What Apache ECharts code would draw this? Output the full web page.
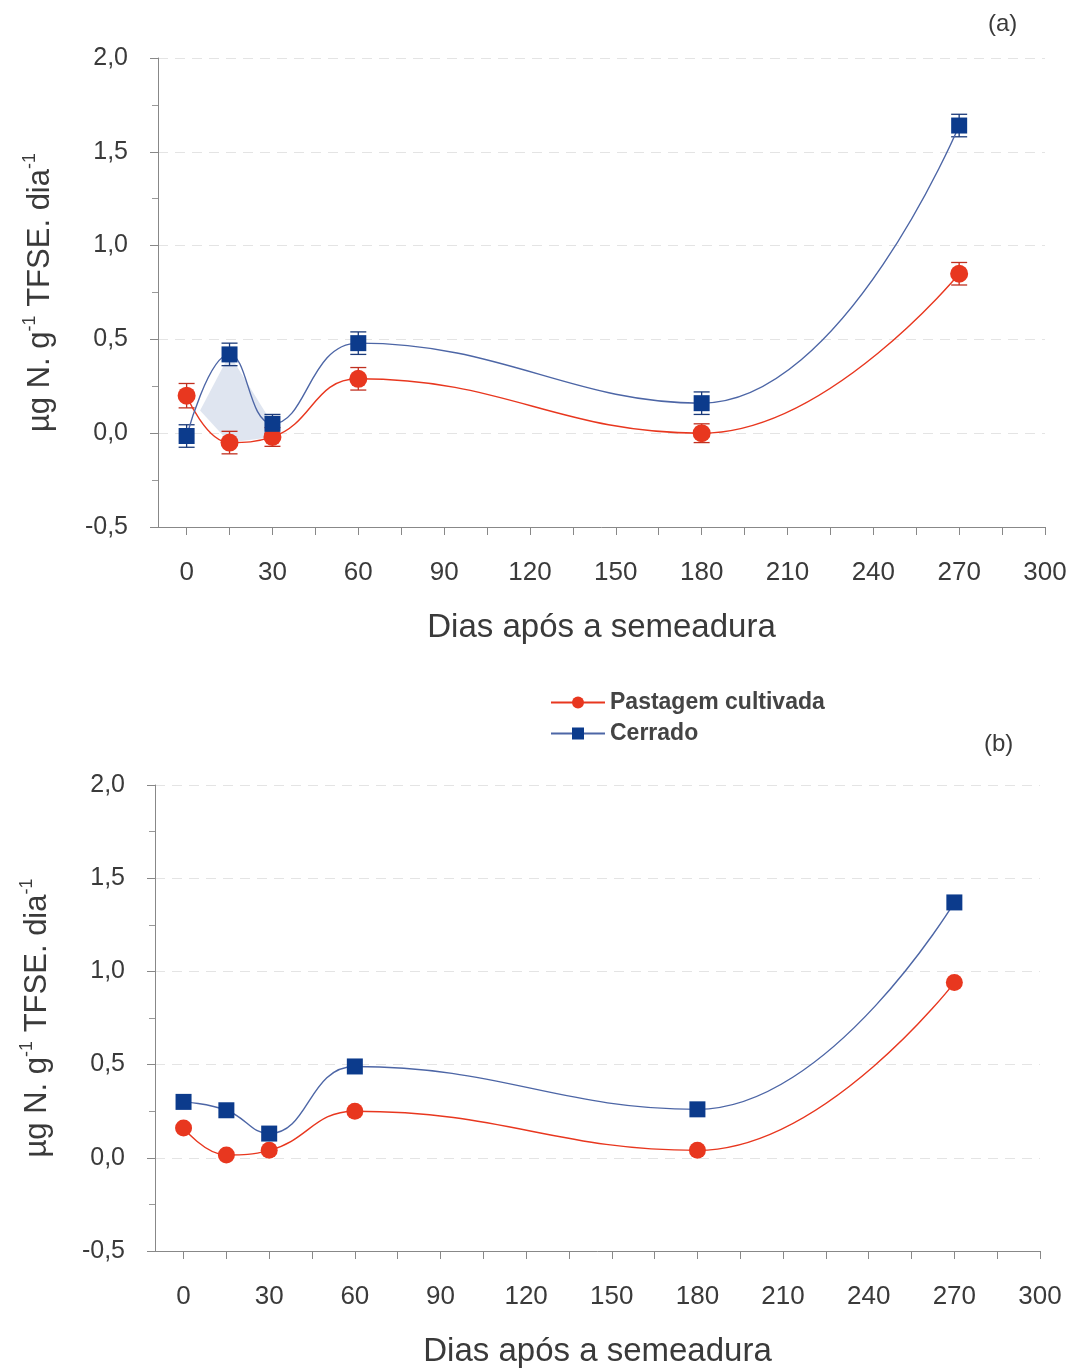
<!DOCTYPE html>
<html>
<head>
<meta charset="utf-8">
<script src="https://cdn.jsdelivr.net/npm/echarts@6/dist/echarts.min.js"></script>
<style>
  html, body { margin: 0; padding: 0; background: #fff; }
  #chart { width: 1073px; height: 1369px; }
</style>
</head>
<body>
<div id="chart"></div>
<script>
// dias apos a semeadura
var days = [0, 15, 30, 60, 180, 270];
var xLabels = [0, 30, 60, 90, 120, 150, 180, 210, 240, 270, 300];
var xTicks = [0, 15, 30, 45, 60, 75, 90, 105, 120, 135, 150, 165, 180, 195, 210, 225, 240, 255, 270, 285, 300];

// painel (a)
var pastagemA = [0.20, -0.05, -0.02, 0.29, 0.00, 0.85];
var cerradoA = [-0.015, 0.42, 0.05, 0.48, 0.16, 1.64];
var errPastagemA = [0.065, 0.06, 0.05, 0.06, 0.05, 0.06];
var errCerradoA = [0.06, 0.06, 0.05, 0.06, 0.06, 0.06];

// painel (b)
var pastagemB = [0.16, 0.015, 0.04, 0.25, 0.04, 0.94];
var cerradoB = [0.30, 0.255, 0.13, 0.49, 0.26, 1.37];

var RED = '#e8371f';
var BLUE = '#0c3b8c';
var BLUE_LINE = '#4d66a6';
var FONT = '"Liberation Sans", Arial, sans-serif';
var TXT = '#3a3a3a';

var chart = echarts.init(document.getElementById('chart'));

function pairs(xs, ys) {
    return xs.map(function (x, i) { return [x, ys[i]]; });
}

function errData(xs, ys, es) {
    return xs.map(function (x, i) { return [x, ys[i] - es[i], ys[i] + es[i]]; });
}

function errSeries(name, idx, data, color) {
    return {
        name: name,
        type: 'custom',
        xAxisIndex: idx,
        yAxisIndex: idx,
        z: 1,
        data: data,
        renderItem: function (params, api) {
            var lo = api.coord([api.value(0), api.value(1)]);
            var hi = api.coord([api.value(0), api.value(2)]);
            var w = 8;
            var st = { stroke: color, lineWidth: 1.3 };
            return {
                type: 'group',
                children: [
                    { type: 'line', shape: { x1: lo[0], y1: lo[1], x2: hi[0], y2: hi[1] }, style: st },
                    { type: 'line', shape: { x1: lo[0] - w, y1: lo[1], x2: lo[0] + w, y2: lo[1] }, style: st },
                    { type: 'line', shape: { x1: hi[0] - w, y1: hi[1], x2: hi[0] + w, y2: hi[1] }, style: st }
                ]
            };
        }
    };
}

// area between the two curves in the first 30 days of panel (a)
function shadeData() {
    var d0 = cerradoA[0] - pastagemA[0];
    var d1 = cerradoA[1] - pastagemA[1];
    var t = -d0 / (d1 - d0);
    var xc = days[0] + t * (days[1] - days[0]);
    var yc = pastagemA[0] + t * (pastagemA[1] - pastagemA[0]);
    return [[xc, yc], [days[1], cerradoA[1]], [days[2], cerradoA[2]],
        [days[2], pastagemA[2]], [days[1], pastagemA[1]]];
}

var shadePts = shadeData();

function xAxisCfg(idx) {
    return {
        type: 'value',
        gridIndex: idx,
        min: -10,
        max: 300,
        name: 'Dias após a semeadura',
        nameLocation: 'middle',
        nameGap: 84,
        nameTextStyle: { fontFamily: FONT, fontSize: 33, color: TXT },
        axisLine: { show: true, onZero: false, lineStyle: { color: '#888', width: 1 } },
        axisTick: { show: true, customValues: xTicks, length: 8, lineStyle: { color: '#888' } },
        axisLabel: {
            customValues: xLabels,
            margin: 33,
            fontFamily: FONT, fontSize: 26, color: TXT
        },
        splitLine: { show: false }
    };
}

function yAxisCfg(idx) {
    return {
        type: 'value',
        gridIndex: idx,
        min: -0.5,
        max: 2.0,
        interval: 0.5,
        name: '{t|µg N. g}{s|-1}{t| TFSE. dia}{s|-1}',
        nameLocation: 'middle',
        nameRotate: 90,
        nameGap: 99,
        nameTextStyle: {
            rich: {
                t: { fontFamily: FONT, fontSize: 31, color: TXT, lineHeight: 38 },
                s: { fontFamily: FONT, fontSize: 18, color: TXT, lineHeight: 18, verticalAlign: 'top' }
            }
        },
        axisLine: { show: true, onZero: false, lineStyle: { color: '#888', width: 1 } },
        axisTick: { show: true, length: 8, lineStyle: { color: '#888' } },
        minorTick: { show: true, splitNumber: 2, length: 6, lineStyle: { color: '#999' } },
        axisLabel: {
            margin: 30,
            fontFamily: FONT, fontSize: 25, color: TXT,
            formatter: function (v) { return v.toFixed(1).replace('.', ','); }
        },
        splitLine: { show: true, lineStyle: { color: '#e4e4e4', type: [10, 7], width: 1 } }
    };
}

function lineSeries(name, idx, xs, ys, color, lineColor, symbol, size) {
    return {
        name: name,
        type: 'line',
        xAxisIndex: idx,
        yAxisIndex: idx,
        data: pairs(xs, ys),
        smooth: 0.45,
        z: 3,
        symbol: symbol,
        symbolSize: size,
        itemStyle: { color: color },
        lineStyle: { color: lineColor, width: 1.4 }
    };
}

var option = {
    backgroundColor: '#fff',
    animation: false,
    grid: [
        { left: 158, top: 58, width: 887, height: 469 },
        { left: 155, top: 785, width: 885, height: 468 }
    ],
    xAxis: [xAxisCfg(0), xAxisCfg(1)],
    yAxis: [yAxisCfg(0), yAxisCfg(1)],
    legend: {
        data: ['Pastagem cultivada', 'Cerrado'],
        orient: 'vertical',
        left: 545,
        top: 686,
        itemWidth: 54,
        itemHeight: 15,
        itemGap: 8,
        textStyle: { fontFamily: FONT, fontSize: 23, fontWeight: 'bold', color: '#444' }
    },
    graphic: [
        { type: 'text', left: 988, top: 12, style: { text: '(a)', font: '24px ' + FONT, fill: TXT } },
        { type: 'text', left: 984, top: 732, style: { text: '(b)', font: '24px ' + FONT, fill: TXT } }
    ],
    series: [
        {
            name: 'shade',
            type: 'custom',
            xAxisIndex: 0,
            yAxisIndex: 0,
            z: 0,
            silent: true,
            data: [0],
            renderItem: function (params, api) {
                var pts = shadePts.map(function (p) { return api.coord(p); });
                return {
                    type: 'polygon',
                    shape: { points: pts },
                    style: { fill: '#dfe5f0' }
                };
            }
        },
        errSeries('errA1', 0, errData(days, pastagemA, errPastagemA), '#c03020'),
        errSeries('errA2', 0, errData(days, cerradoA, errCerradoA), '#1a3a7a'),
        lineSeries('Pastagem cultivada', 0, days, pastagemA, RED, RED, 'circle', 18),
        lineSeries('Cerrado', 0, days, cerradoA, BLUE, BLUE_LINE, 'rect', 16),
        lineSeries('Pastagem cultivada', 1, days, pastagemB, RED, RED, 'circle', 17),
        lineSeries('Cerrado', 1, days, cerradoB, BLUE, BLUE_LINE, 'rect', 16)
    ]
};

chart.setOption(option);
</script>
</body>
</html>
